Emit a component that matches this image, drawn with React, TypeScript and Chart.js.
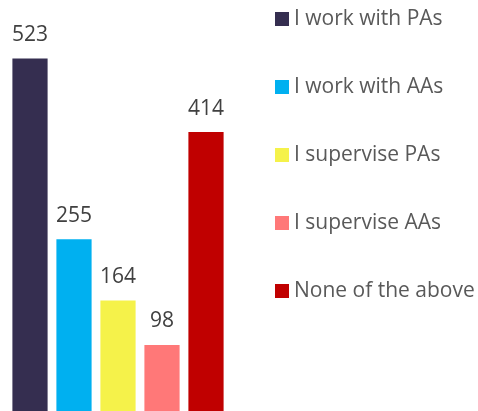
import React, { useEffect, useRef } from 'react';
import { Chart, registerables } from 'chart.js';

Chart.register(...registerables);

const categories = ['I work with PAs', 'I work with AAs', 'I supervise PAs', 'I supervise AAs', 'None of the above'];
const counts = [523, 255, 164, 98, 414];
const barColors = ['#352E50', '#00B0F0', '#F5F24A', '#FF7878', '#C00000'];

function makeSwatch(color: string): HTMLCanvasElement {
  const c = document.createElement('canvas');
  c.width = 60;
  c.height = 14;
  const g = c.getContext('2d')!;
  g.fillStyle = color;
  g.fillRect(45, 0, 14, 14);
  return c;
}

const valueLabels = {
  id: 'valueLabels',
  afterDatasetsDraw(chart: any) {
    const ctx = chart.ctx;
    const meta = chart.getDatasetMeta(0);
    const ds = chart.data.datasets[0];
    ctx.save();
    ctx.font = "21px 'Open Sans'";
    ctx.fillStyle = '#404040';
    ctx.textAlign = 'center';
    ctx.textBaseline = 'alphabetic';
    meta.data.forEach((bar: any, i: number) => {
      ctx.fillText(String(ds.data[i]), bar.x, bar.y - 17.5);
    });
    ctx.restore();
  },
};

export default function App() {
  const ref = useRef<HTMLCanvasElement>(null);
  useEffect(() => {
    document.body.style.margin = '0';
    const swatches = barColors.map(makeSwatch);
    const chart = new Chart(ref.current!, {
      type: 'bar',
      data: {
        labels: categories,
        datasets: [
          {
            data: counts,
            backgroundColor: barColors,
            borderWidth: 0,
            categoryPercentage: 1,
            barPercentage: 0.8,
          },
        ],
      },
      options: {
        responsive: false,
        animation: false,
        layout: { padding: { left: 8, top: 0, right: 0, bottom: 0 } },
        scales: {
          x: { display: false },
          y: { display: false, min: 0, max: 610 },
        },
        plugins: {
          tooltip: { enabled: false },
          legend: {
            position: 'right',
            align: 'start',
            maxWidth: 250,
            labels: {
              usePointStyle: true,
              pointStyleWidth: 47,
              padding: 8.5,
              color: '#595959',
              font: { family: "'Open Sans', sans-serif", size: 21, lineHeight: '29.75px' },
              generateLabels: (ch: any) =>
                ch.data.labels.map((l: string, i: number) => ({
                  text: [l, ' '.repeat(80)],
                  fillStyle: barColors[i],
                  strokeStyle: barColors[i],
                  lineWidth: 0,
                  pointStyle: swatches[i],
                  hidden: false,
                  index: i,
                  datasetIndex: 0,
                  fontColor: '#595959',
                })),
            },
          },
        },
      } as any,
      plugins: [valueLabels],
    });
    return () => chart.destroy();
  }, []);
  return (
    <div style={{ width: 478, height: 411 }}>
      <canvas ref={ref} width={478} height={411} style={{ display: 'block' }} />
    </div>
  );
}
